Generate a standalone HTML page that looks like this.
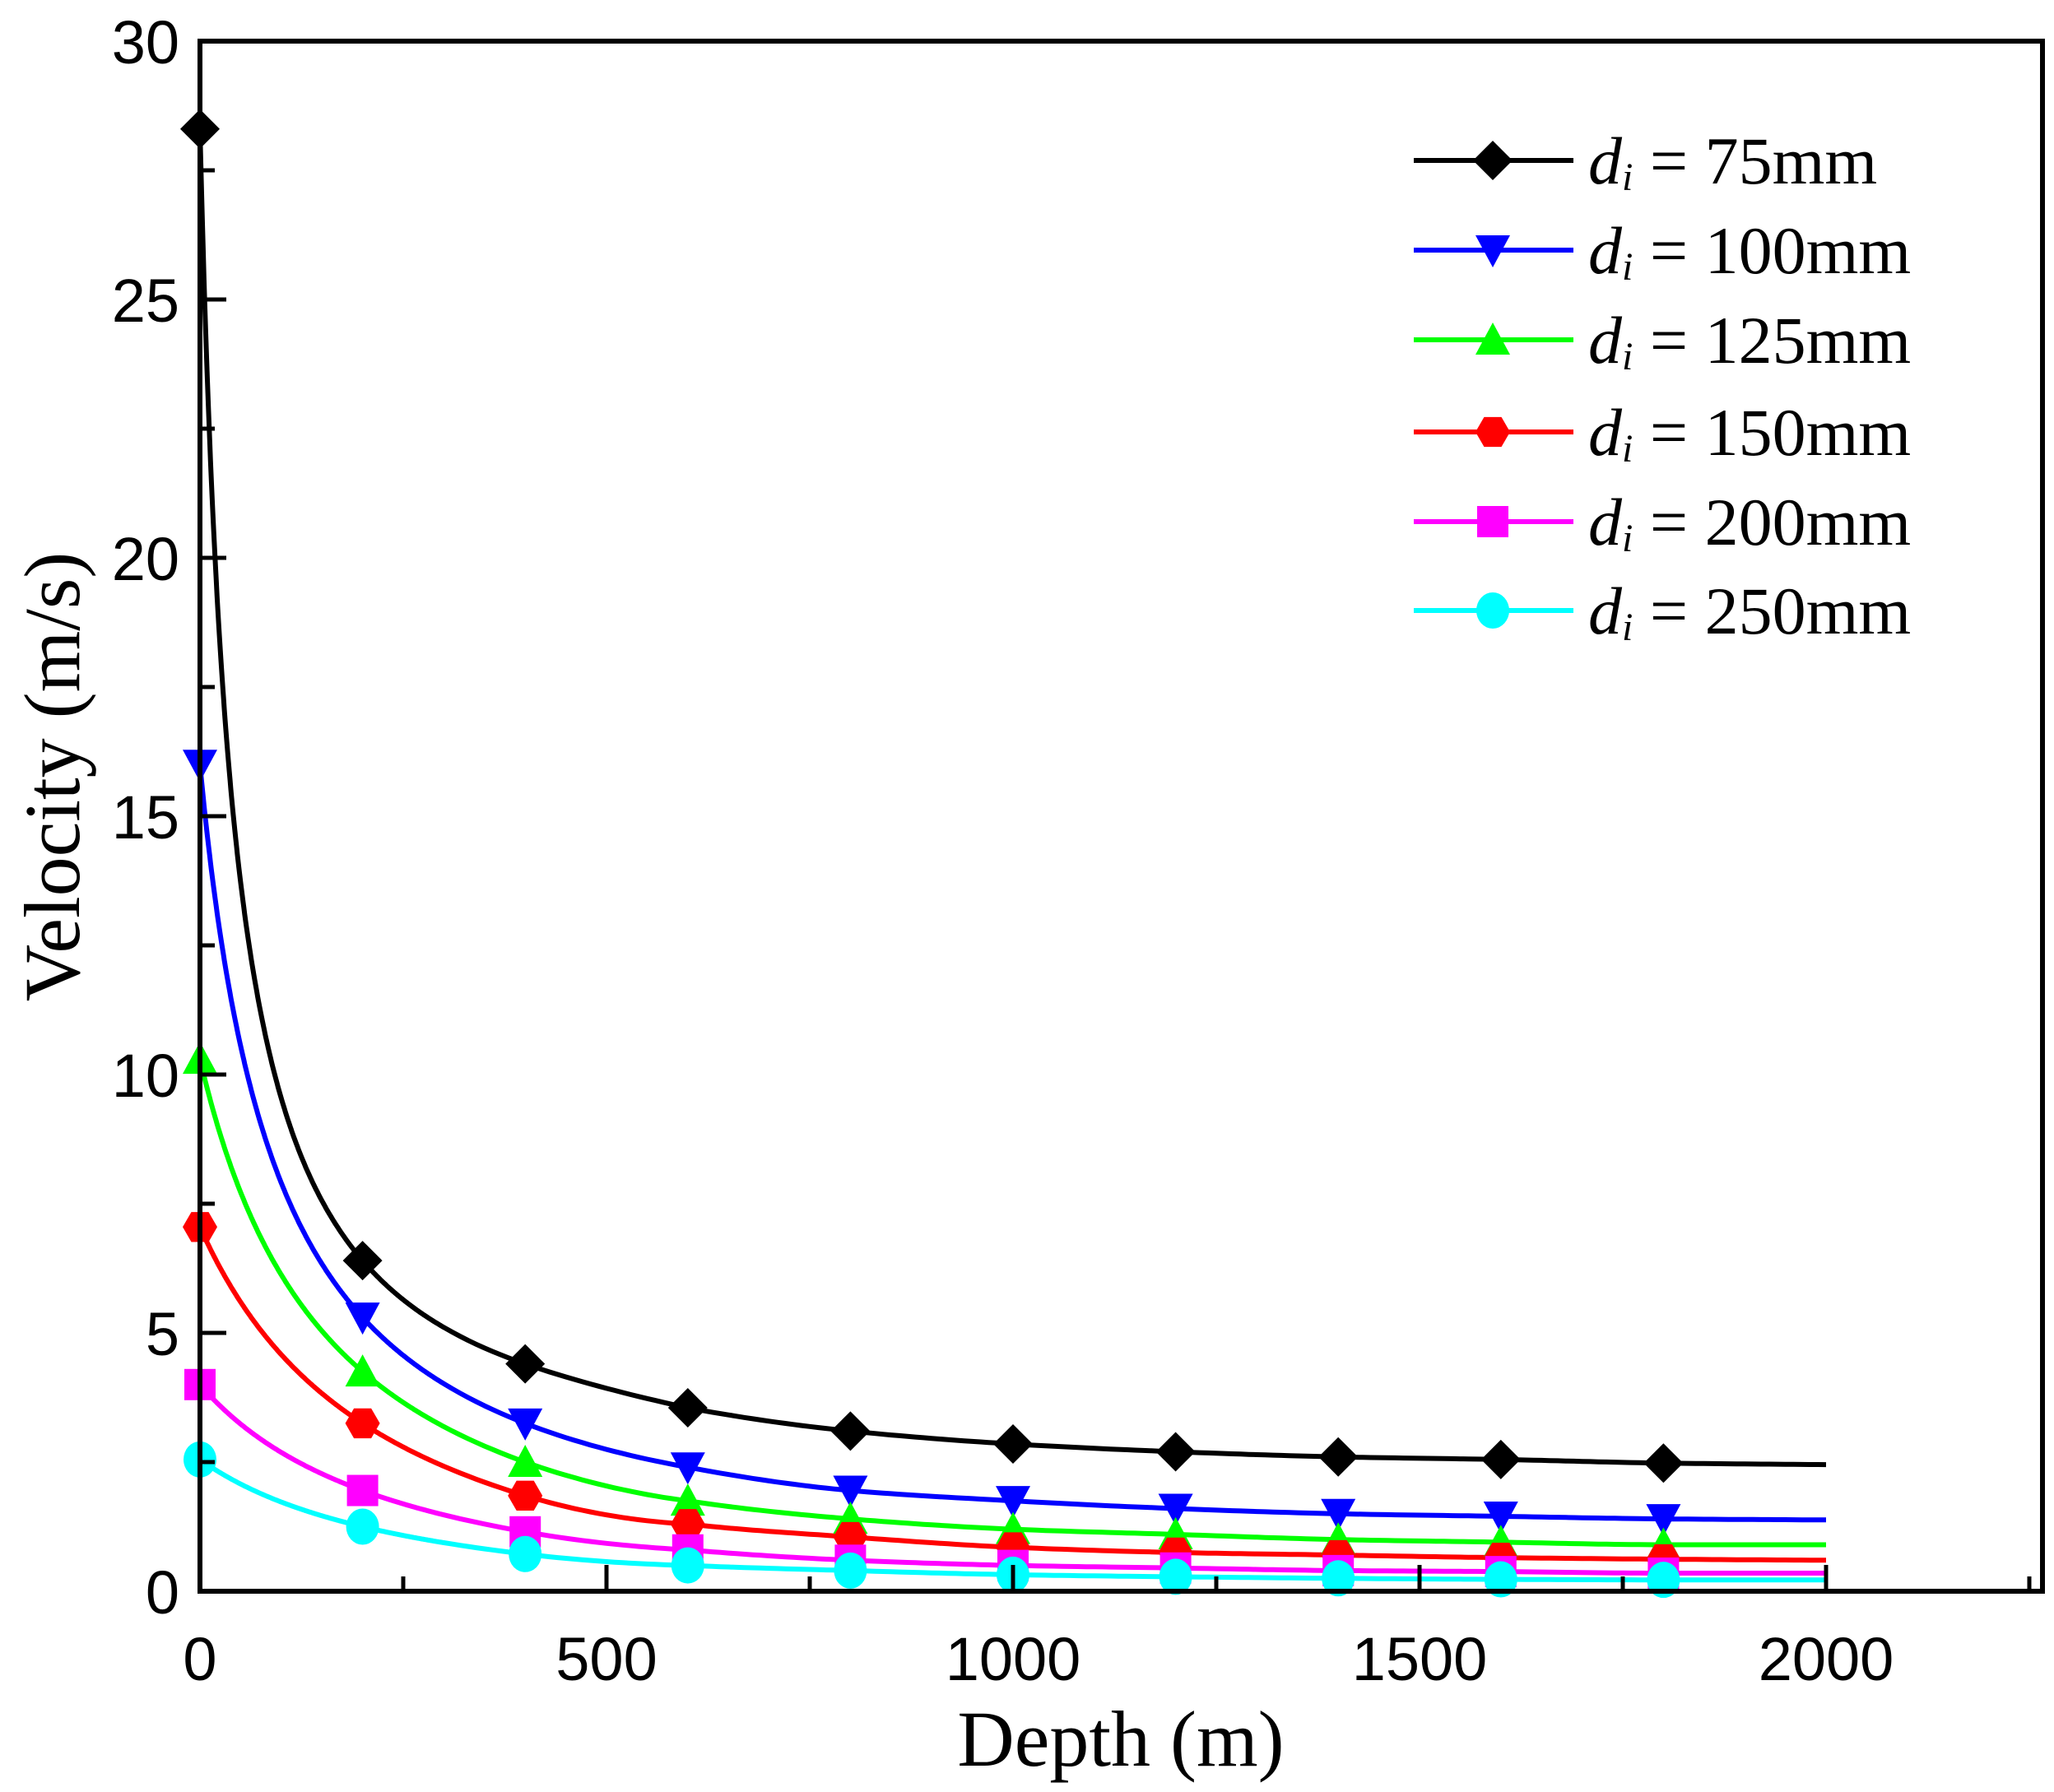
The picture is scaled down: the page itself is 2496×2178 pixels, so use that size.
<!DOCTYPE html>
<html><head><meta charset="utf-8"><style>
html,body{margin:0;padding:0;background:#fff;}
svg{display:block;}
.tk{font-family:"Liberation Sans",Arial,sans-serif;font-size:74px;fill:#000;}
.tt{font-family:"Liberation Serif","Times New Roman",serif;font-size:96px;fill:#000;}
.lg{font-family:"Liberation Serif","Times New Roman",serif;font-size:82px;fill:#000;}
</style></head><body>
<svg id="s" width="2496" height="2178" viewBox="0 0 2496 2178" xmlns="http://www.w3.org/2000/svg">
<g id="curves"></g>
<g id="marks"></g>
<rect x="243" y="50" width="2239" height="1884" fill="none" stroke="#000" stroke-width="6"/>
<g id="ticks" stroke="#000" stroke-width="5"></g>
<g id="labels"></g>
<text class="tt" x="1362" y="2146" text-anchor="middle">Depth (m)</text>
<text class="tt" transform="translate(96,944) rotate(-90)" text-anchor="middle">Velocity (m/s)</text>
<g id="legend"></g>
</svg>
<script>
const NS="http://www.w3.org/2000/svg";
const X=v=>243+v*0.988, Y=v=>1934-v*62.8;
function el(t,a,p){const e=document.createElementNS(NS,t);for(const k in a)e.setAttribute(k,a[k]);p.appendChild(e);return e;}
const tg=document.getElementById('ticks'),lb=document.getElementById('labels');
for(let v=0;v<=2250;v+=250){const x=X(v);el('line',{x1:x,y1:1934,x2:x,y2:1934-(v%500==0?32:18)},tg);
 if(v%500==0&&v<=2000){const t=el('text',{x:x,y:2042,'text-anchor':'middle',class:'tk'},lb);t.textContent=v;}}
for(let v=0;v<=30;v+=2.5){const y=Y(v);el('line',{x1:243,y1:y,x2:243+(v%5==0?32:18),y2:y},tg);
 if(v%5==0){const t=el('text',{x:218,y:y+27,'text-anchor':'end',class:'tk'},lb);t.textContent=v;}}
const xs=[0,200,400,600,800,1000,1200,1400,1600,1800,2000];
const S=[
{c:'#000',m:'dia',l:'75mm',v:[28.3,6.4,4.4,3.55,3.1,2.85,2.7,2.6,2.55,2.48,2.45]},
{c:'#0000ff',m:'tri_d',l:'100mm',v:[16,5.3,3.25,2.4,1.95,1.75,1.6,1.5,1.45,1.4,1.38]},
{c:'#00ff00',m:'tri_u',l:'125mm',v:[10.3,4.25,2.5,1.75,1.4,1.2,1.1,1.0,0.95,0.9,0.9]},
{c:'#ff0000',m:'hex',l:'150mm',v:[7.05,3.25,1.85,1.3,1.05,0.85,0.75,0.7,0.65,0.62,0.6]},
{c:'#ff00ff',m:'sq',l:'200mm',v:[4.0,1.95,1.15,0.8,0.6,0.5,0.45,0.4,0.38,0.35,0.35]},
{c:'#00ffff',m:'circ',l:'250mm',v:[2.55,1.25,0.72,0.5,0.4,0.32,0.28,0.25,0.23,0.22,0.22]}];
function marker(type,x,y,c,g){const r=21;
 if(type=='dia')el('polygon',{points:`${x},${y-r-3} ${x+r+3},${y} ${x},${y+r+3} ${x-r-3},${y}`,fill:c},g);
 if(type=='tri_d')el('polygon',{points:`${x-r},${y-r+3} ${x+r},${y-r+3} ${x},${y+r}`,fill:c},g);
 if(type=='tri_u')el('polygon',{points:`${x-r},${y+r-3} ${x+r},${y+r-3} ${x},${y-r}`,fill:c},g);
 if(type=='hex'){let p=[];for(let i=0;i<6;i++){const a=Math.PI/3*i;p.push((x+r*Math.cos(a))+','+(y+r*Math.sin(a)));}el('polygon',{points:p.join(' '),fill:c},g);}
 if(type=='sq')el('rect',{x:x-r+2,y:y-r+2,width:2*r-4,height:2*r-4,fill:c},g);
 if(type=='circ')el('ellipse',{cx:x,cy:y,rx:r-1,ry:r+1,fill:c},g);}
function mono(xv,yv){const n=xv.length,d=[],m=[];
 for(let i=0;i<n-1;i++)d.push((yv[i+1]-yv[i])/(xv[i+1]-xv[i]));
 m[0]=d[0];m[n-1]=d[n-2];
 for(let i=1;i<n-1;i++){if(d[i-1]*d[i]<=0)m[i]=0;else{const w1=2*(xv[i+1]-xv[i])+(xv[i]-xv[i-1]),w2=(xv[i+1]-xv[i])+2*(xv[i]-xv[i-1]);m[i]=(w1+w2)/(w1/d[i-1]+w2/d[i]);}}
 return x=>{let k=0;while(k<n-2&&x>xv[k+1])k++;const h=xv[k+1]-xv[k],t=(x-xv[k])/h;
  const h00=2*t*t*t-3*t*t+1,h10=t*t*t-2*t*t+t,h01=-2*t*t*t+3*t*t,h11=t*t*t-t*t;
  return h00*yv[k]+h10*h*m[k]+h01*yv[k+1]+h11*h*m[k+1];};}
// hyperbola c + A/(x+b) through (0,v0),(200,v1),(400,v2)
function hyp(v0,v1,v2){
 function B(c){return 200*(v1-c)/((v0-c)-(v1-c));} // from first two
 function err(c){const b=B(c),A=(v0-c)*b;return c+A/(400+b)-v2;}
 let lo=-5,hi=Math.min(v2,v1)-1e-6;
 for(let i=0;i<100;i++){const mid=(lo+hi)/2;if(err(lo)*err(mid)<=0)hi=mid;else lo=mid;}
 const c=(lo+hi)/2,b=B(c),A=(v0-c)*b;return x=>c+A/(x+b);}
const cg=document.getElementById('curves'),mg=document.getElementById('marks'),lg=document.getElementById('legend');
S.forEach((s,i)=>{const f=mono(xs,s.v),h=hyp(s.v[0],s.v[1],s.v[2]);let pts=[];
 const F=x=>{if(x<=400)return h(x);if(x>=600)return f(x);const t=(x-400)/200;return (1-t)*h(x)+t*f(x);};
 for(let x=0;x<=2000;x+=(x<300?1:10))pts.push(X(x).toFixed(1)+','+Y(F(x)).toFixed(1));
 el('polyline',{points:pts.join(' '),fill:'none',stroke:s.c,'stroke-width':6,'stroke-linejoin':'round'},cg);
 xs.forEach((x,j)=>{if(x<2000)marker(s.m,X(x),Y(s.v[j]),s.c,mg);});
 const ly=[195,304,413,525,634,742][i];
 el('line',{x1:1718,y1:ly,x2:1912,y2:ly,stroke:s.c,'stroke-width':6},lg);
 marker(s.m,1814,ly,s.c,lg);
 const t=el('text',{x:1930,y:ly+28,class:'lg'},lg);
 t.innerHTML='<tspan font-style="italic">d</tspan><tspan font-style="italic" font-size="48" dy="8">i</tspan><tspan dy="-8"> = '+s.l+'</tspan>';
});
</script>
</body></html>
